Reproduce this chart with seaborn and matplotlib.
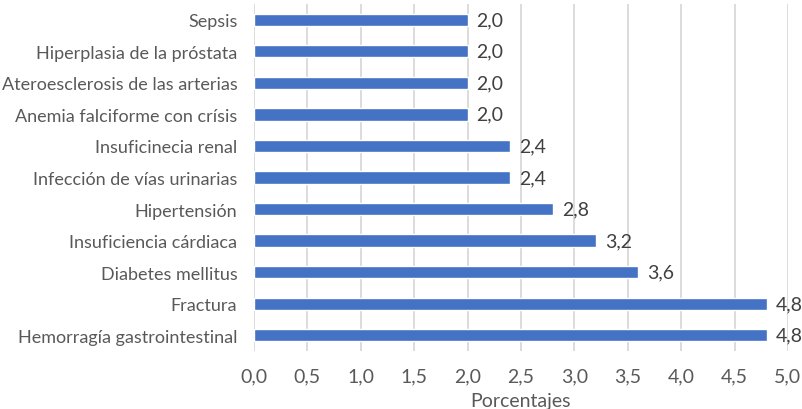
import matplotlib
matplotlib.use("Agg")
import matplotlib.pyplot as plt
import seaborn as sns
import pandas as pd
from matplotlib.ticker import FuncFormatter, MultipleLocator

categories = [
    "Sepsis",
    "Hiperplasia de la próstata",
    "Ateroesclerosis de las arterias",
    "Anemia falciforme con crísis",
    "Insuficinecia renal",
    "Infección de vías urinarias",
    "Hipertensión",
    "Insuficiencia cárdiaca",
    "Diabetes mellitus",
    "Fractura",
    "Hemorragía gastrointestinal",
]
porcentajes = [2.0, 2.0, 2.0, 2.0, 2.4, 2.4, 2.8, 3.2, 3.6, 4.8, 4.8]

df = pd.DataFrame({"causa": categories, "pct": porcentajes})

sns.set_theme(style="white")
plt.rcParams["font.family"] = ["Lato", "DejaVu Sans"]

fig = plt.figure(figsize=(8.02, 4.10), dpi=100)
ax = fig.add_axes([0.3167, 0.1415, 0.6658, 0.8465])

sns.barplot(data=df, x="pct", y="causa", orient="h", color="#4472C4",
            saturation=1, width=0.39, ax=ax, zorder=3)

ax.set_xlim(0, 5.0)
ax.set_ylim(10.5, -0.5)
ax.xaxis.set_major_locator(MultipleLocator(0.5))
ax.xaxis.set_major_formatter(FuncFormatter(lambda v, _: f"{v:.1f}".replace(".", ",")))
ax.grid(axis="x", color="#D9D9D9", linewidth=1.3, zorder=0)
ax.grid(axis="y", visible=False)
for s in ax.spines.values():
    s.set_visible(False)

ax.tick_params(axis="both", length=0, colors="#595959")
ax.tick_params(axis="x", pad=12, labelsize=14)
ax.tick_params(axis="y", pad=12, labelsize=13)
ax.set_ylabel("")
ax.set_xlabel("Porcentajes", fontsize=14, color="#595959", labelpad=5)

for i, v in enumerate(porcentajes):
    ax.annotate(f"{v:.1f}".replace(".", ","), (v, i), xytext=(6.5, 0),
                textcoords="offset points", va="center", ha="left",
                fontsize=14, color="#404040")

fig.savefig("out.png", dpi=100)
